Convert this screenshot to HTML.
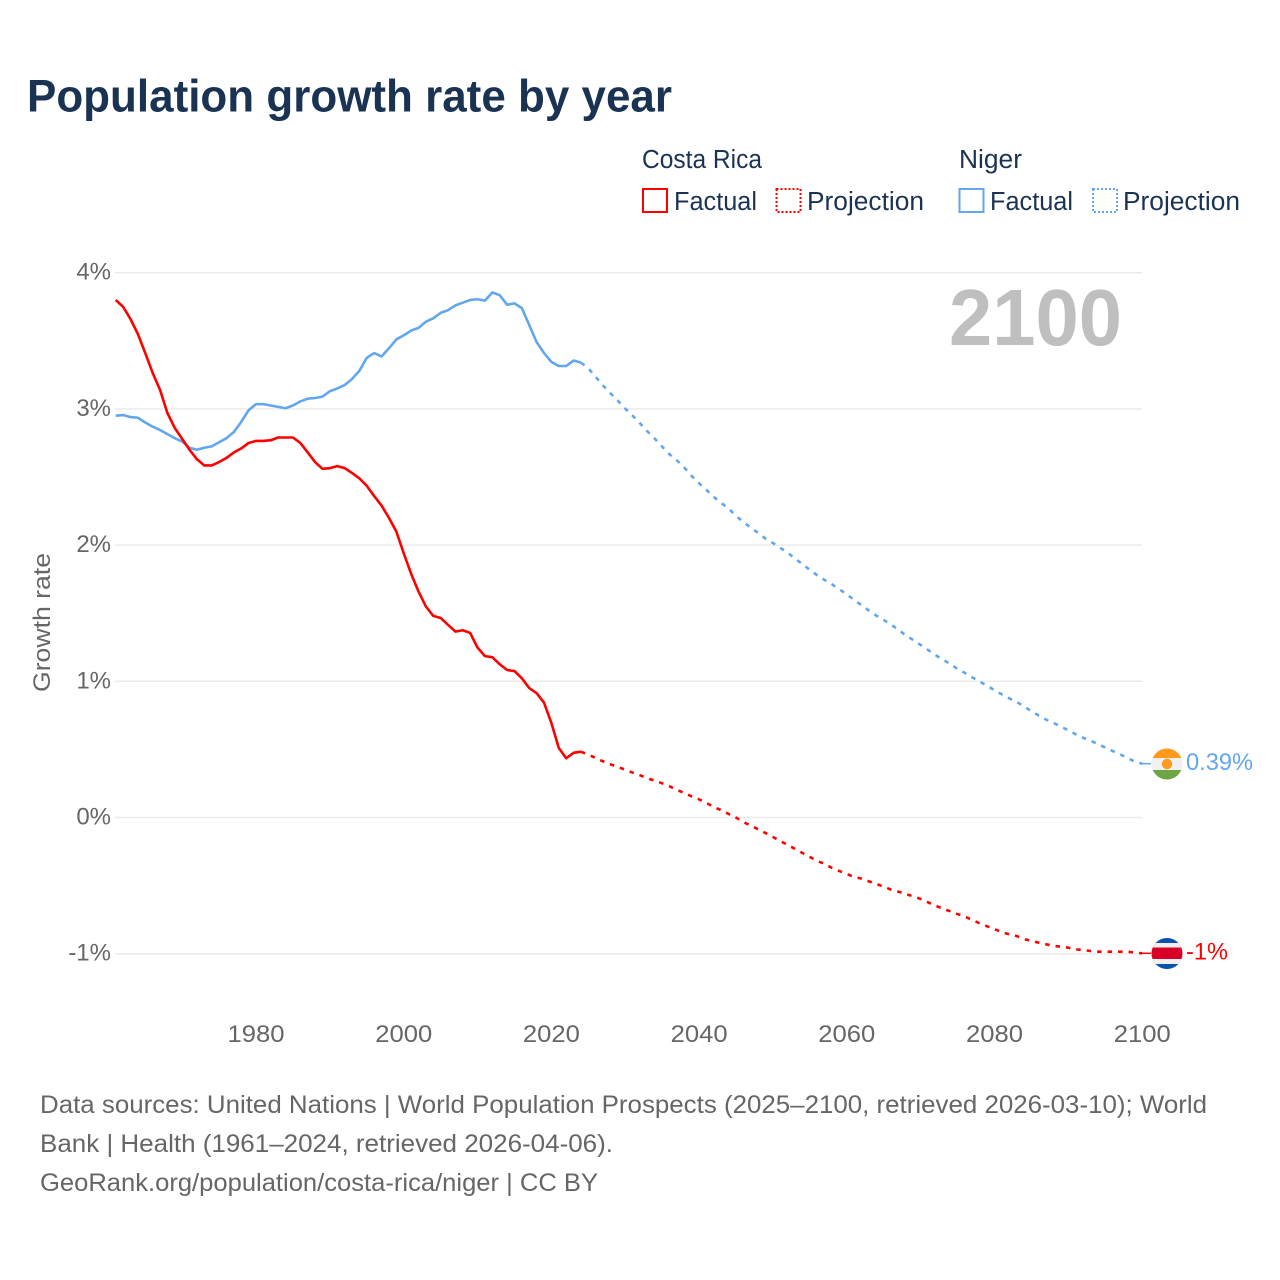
<!DOCTYPE html>
<html lang="en">
<head>
<meta charset="utf-8">
<title>Population growth rate by year</title>
<style>
html,body{margin:0;padding:0;background:#fff;}
svg{display:block;font-family:"Liberation Sans",sans-serif;}
</style>
</head>
<body>
<svg id="chart" xmlns="http://www.w3.org/2000/svg" width="1280" height="1280" viewBox="0 0 1280 1280">
  <rect x="0" y="0" width="1280" height="1280" fill="#ffffff"/>
  <text x="27" y="111.5" font-size="45" font-weight="700" fill="#1a3353" textLength="645" lengthAdjust="spacingAndGlyphs">Population growth rate by year</text>

  <g font-size="25.5" fill="#1a3353">
    <text x="642" y="168" textLength="120" lengthAdjust="spacingAndGlyphs">Costa Rica</text>
    <text x="959" y="168" textLength="63" lengthAdjust="spacingAndGlyphs">Niger</text>
    <rect x="643" y="189" width="24" height="23" fill="none" stroke="#ff0000" stroke-width="2"/>
    <text x="674" y="210" textLength="83" lengthAdjust="spacingAndGlyphs">Factual</text>
    <rect x="776.5" y="189" width="24" height="23" fill="none" stroke="#ff0000" stroke-width="2" stroke-dasharray="2 2"/>
    <text x="807" y="210" textLength="117" lengthAdjust="spacingAndGlyphs">Projection</text>
    <rect x="959.5" y="189" width="24" height="23" fill="none" stroke="#62a6ee" stroke-width="2"/>
    <text x="990" y="210" textLength="83" lengthAdjust="spacingAndGlyphs">Factual</text>
    <rect x="1093" y="189" width="24" height="23" fill="none" stroke="#62a6ee" stroke-width="2" stroke-dasharray="2 2"/>
    <text x="1123" y="210" textLength="117" lengthAdjust="spacingAndGlyphs">Projection</text>
  </g>

  <g id="grid"></g>
  <g id="yticks"></g>
  <g id="xticks"></g>
  <text transform="translate(50,692) rotate(-90)" font-size="24" fill="#666666" textLength="139" lengthAdjust="spacingAndGlyphs">Growth rate</text>
  <text id="year-label" x="949" y="345" font-size="80" font-weight="700" fill="#bfbfbf" textLength="173" lengthAdjust="spacingAndGlyphs">2100</text>
  <g id="series"></g>

  <g id="flag-niger">
    <clipPath id="clip-niger"><circle cx="1167" cy="764" r="15.5"/></clipPath>
    <g clip-path="url(#clip-niger)">
      <rect x="1150" y="748" width="34" height="10" fill="#ff9a1e"/>
      <rect x="1150" y="758" width="34" height="12" fill="#f0f0f0"/>
      <rect x="1150" y="770" width="34" height="10" fill="#6da544"/>
      <circle cx="1167" cy="764" r="5.2" fill="#ff9a1e"/>
    </g>
  </g>
  <g id="flag-costa-rica">
    <clipPath id="clip-cr"><circle cx="1167" cy="953.5" r="15.5"/></clipPath>
    <g clip-path="url(#clip-cr)">
      <rect x="1150" y="938" width="34" height="32" fill="#0a52b0"/>
      <rect x="1150" y="943" width="34" height="21" fill="#f0f0f0"/>
      <rect x="1150" y="947.5" width="34" height="11.5" fill="#d80027"/>
    </g>
  </g>
  <text x="1186" y="770" font-size="24" fill="#62a6ee" textLength="67" lengthAdjust="spacingAndGlyphs">0.39%</text>
  <text x="1186" y="959.5" font-size="24" fill="#ff0000" textLength="42" lengthAdjust="spacingAndGlyphs">-1%</text>

  <g font-size="25" fill="#666666">
    <text x="40" y="1113" textLength="1167" lengthAdjust="spacingAndGlyphs">Data sources: United Nations | World Population Prospects (2025–2100, retrieved 2026-03-10); World</text>
    <text x="40" y="1152" textLength="573" lengthAdjust="spacingAndGlyphs">Bank | Health (1961–2024, retrieved 2026-04-06).</text>
    <a><text x="40" y="1191" textLength="558" lengthAdjust="spacingAndGlyphs">GeoRank.org/population/costa-rica/niger | CC BY</text></a>
  </g>
</svg>
<script>
var firstYear = 1961;
var projectionStartYear = 2024;
var xTickValues = [1980, 2000, 2020, 2040, 2060, 2080, 2100];
var yTickValues = [4, 3, 2, 1, 0, -1];
var yTickLabels = ["4%", "3%", "2%", "1%", "0%", "-1%"];

var costaRicaFactual = [
3.80,3.75,3.66,3.55,3.41,3.265,3.14,2.97,2.86,2.78,
2.70,2.63,2.585,2.585,2.61,2.64,2.68,2.71,2.75,2.765,
2.765,2.77,2.79,2.79,2.79,2.75,2.68,2.61,2.56,2.565,
2.58,2.565,2.53,2.49,2.435,2.36,2.29,2.20,2.10,1.94,
1.79,1.66,1.55,1.48,1.465,1.415,1.365,1.375,1.355,1.247,
1.185,1.177,1.125,1.083,1.075,1.022,0.95,0.913,0.843,0.693,
0.51,0.435,0.475,0.483];

var costaRicaProjection = [
0.483,0.461,0.437,0.412,0.390,0.371,0.351,0.329,0.310,0.288,
0.270,0.251,0.229,0.202,0.180,0.155,0.133,0.106,0.077,0.053,
0.026,-0.001,-0.033,-0.060,-0.087,-0.114,-0.143,-0.173,-0.202,-0.231,
-0.261,-0.290,-0.319,-0.341,-0.371,-0.393,-0.415,-0.437,-0.449,-0.469,
-0.488,-0.508,-0.530,-0.545,-0.562,-0.579,-0.598,-0.623,-0.647,-0.669,
-0.689,-0.709,-0.728,-0.753,-0.777,-0.799,-0.819,-0.843,-0.858,-0.870,
-0.892,-0.907,-0.919,-0.931,-0.943,-0.948,-0.956,-0.968,-0.973,-0.980,
-0.985,-0.985,-0.985,-0.985,-0.985,-0.992,-0.997];

var nigerFactual = [
2.95,2.955,2.94,2.935,2.90,2.87,2.845,2.815,2.785,2.76,
2.715,2.70,2.715,2.725,2.755,2.785,2.83,2.905,2.99,3.035,
3.035,3.025,3.015,3.005,3.025,3.055,3.075,3.08,3.09,3.13,
3.15,3.175,3.22,3.28,3.375,3.41,3.385,3.445,3.51,3.54,
3.575,3.595,3.64,3.665,3.705,3.725,3.76,3.78,3.80,3.805,
3.795,3.855,3.835,3.765,3.775,3.74,3.615,3.49,3.41,3.345,
3.315,3.315,3.355,3.34];

var nigerProjection = [
3.34,3.298,3.234,3.171,3.114,3.060,3.002,2.950,2.894,2.835,
2.781,2.723,2.666,2.622,2.569,2.507,2.453,2.405,2.353,2.309,
2.268,2.214,2.170,2.128,2.089,2.047,2.015,1.979,1.944,1.900,
1.861,1.817,1.778,1.744,1.712,1.675,1.639,1.597,1.558,1.519,
1.482,1.450,1.416,1.377,1.337,1.303,1.266,1.230,1.193,1.159,
1.127,1.090,1.061,1.029,0.997,0.968,0.934,0.904,0.875,0.848,
0.816,0.780,0.748,0.718,0.694,0.667,0.640,0.611,0.586,0.564,
0.540,0.513,0.488,0.464,0.437,0.410,0.395];

var SVGNS = "http://www.w3.org/2000/svg";

function xScale(year) {
  return 115.7 + (year - 1961) * 7.385;
}
function yScale(value) {
  return 817.5 - value * 136.2;
}
function node(tag, parent) {
  var el = document.createElementNS(SVGNS, tag);
  parent.appendChild(el);
  return el;
}
function pointsFor(values, startYear) {
  return values.map(function (v, i) {
    return xScale(startYear + i).toFixed(2) + "," + yScale(v).toFixed(2);
  }).join(" ");
}

var gridGroup = document.getElementById("grid");
var yTickGroup = document.getElementById("yticks");
var xTickGroup = document.getElementById("xticks");
var seriesGroup = document.getElementById("series");

yTickValues.forEach(function (v, i) {
  var line = node("line", gridGroup);
  
  
  line.setAttribute("x1", 115);
  line.setAttribute("x2", 1142);
  line.setAttribute("y1", yScale(v));
  line.setAttribute("y2", yScale(v));
  line.setAttribute("stroke", "#ebebeb");
  line.setAttribute("stroke-width", 1.5);

  var label = node("text", yTickGroup);
  
  
  label.setAttribute("x", 111);
  label.setAttribute("y", yScale(v) + 7);
  label.setAttribute("text-anchor", "end");
  label.setAttribute("font-size", 24);
  label.setAttribute("fill", "#666666");
  label.textContent = yTickLabels[i];
});

xTickValues.forEach(function (year) {
  var label = node("text", xTickGroup);
  
  
  label.setAttribute("x", xScale(year) - 28.5);
  label.setAttribute("y", 1042);
  label.setAttribute("font-size", 24);
  label.setAttribute("fill", "#666666");
  label.setAttribute("textLength", 57);
  label.setAttribute("lengthAdjust", "spacingAndGlyphs");
  label.textContent = String(year);
});

function drawLine(values, startYear, color, dashed, name) {
  var line = node("polyline", seriesGroup);
  
  
  line.setAttribute("points", pointsFor(values, startYear));
  line.setAttribute("fill", "none");
  line.setAttribute("stroke", color);
  line.setAttribute("stroke-width", 2.6);
  line.setAttribute("stroke-linejoin", "round");
  if (dashed) {
    line.setAttribute("stroke-dasharray", "4.5 6");
  }
}

function drawConnector(values, color, name) {
  var last = values[values.length - 1];
  var line = node("line", seriesGroup);
  
  
  line.setAttribute("x1", xScale(firstYear + 139) - 2);
  line.setAttribute("x2", 1151);
  line.setAttribute("y1", yScale(last));
  line.setAttribute("y2", yScale(last));
  line.setAttribute("stroke", color);
  line.setAttribute("stroke-width", 1.5);
}

var red = "#ff0000";
var blue = "#62a6ee";
drawLine(nigerFactual, firstYear, blue, false, "line-niger-factual");
drawLine(costaRicaFactual, firstYear, red, false, "line-costa-rica-factual");
drawLine(nigerProjection, projectionStartYear, blue, true, "line-niger-projection");
drawLine(costaRicaProjection, projectionStartYear, red, true, "line-costa-rica-projection");
drawConnector(nigerProjection, blue, "connector-niger");
drawConnector(costaRicaProjection, red, "connector-costa-rica");
</script>
</body>
</html>
